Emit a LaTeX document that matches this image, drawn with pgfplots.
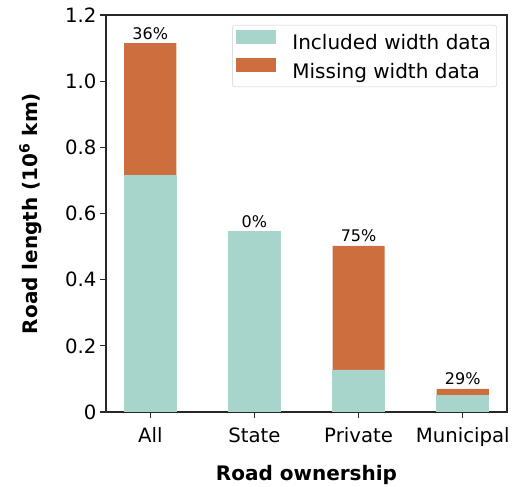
\documentclass[border=0pt]{standalone}
\usepackage{fontspec}
\setmainfont{DejaVu Sans}
\usepackage{pgfplots}
\pgfplotsset{compat=1.18}
\definecolor{incl}{RGB}{168,213,203}
\definecolor{miss}{RGB}{205,110,62}
\definecolor{spine}{RGB}{40,40,40}
\begin{document}
\begin{tikzpicture}
\useasboundingbox (-106pt,-75pt) rectangle (411pt,412pt);
\begin{axis}[
  scale only axis, width=401pt, height=397pt,
  ybar, bar width=0.5, bar shift=0pt,
  xmin=-0.425, xmax=3.425, ymin=0, ymax=1.2,
  xtick={0,1,2,3}, xticklabels={All,State,Private,Municipal},
  ytick={0,0.2,0.4,0.6,0.8,1.0,1.2},
  yticklabels={0,0.2,0.4,0.6,0.8,1.0,1.2},
  tick align=outside, major tick length=6pt, tick pos=left,
  axis line style={spine, line width=1.2pt},
  every tick/.style={spine, line width=1.2pt},
  /pgf/number format/assume math mode=true,
  ticklabel style={font=\fontsize{19.7}{23}\selectfont},
  xticklabel style={anchor=base, yshift=-25pt},
  xlabel={\bfseries Road ownership},
  ylabel={\bfseries Road length (10\textsuperscript{6} km)},
  label style={font=\fontsize{20}{23}\selectfont},
  xlabel style={at={(axis description cs:0.5,0)}, anchor=base, yshift=-69pt},
  ylabel style={at={(axis description cs:-0.172,0.5)}, anchor=base},
  legend style={at={(0.975,0.975)}, anchor=north east, draw=black!20,
    rounded corners=3pt, fill=white, font=\fontsize{20}{23}\selectfont,
    inner xsep=4pt, inner ysep=5pt, row sep=5pt,
    /tikz/every odd column/.append style={column sep=14pt}},
  legend cell align=left,
  legend image code/.code={\fill[#1, sharp corners] (0pt,-1pt) rectangle (40pt,13pt);},
]
\addlegendimage{fill=incl, draw=none}
\addlegendentry{Included width data}
\addlegendimage{fill=miss, draw=none}
\addlegendentry{Missing width data}
% total length per ownership class (missing part shows above the included part),
% labelled with the share that lacks width data
\addplot[forget plot, fill=miss, draw=none, point meta=explicit symbolic,
  nodes near coords={\pgfplotspointmeta\%},
  nodes near coords style={font=\fontsize{16}{18}\selectfont, anchor=base, yshift=4pt}]
  coordinates {(0,1.115) [36] (1,0.547) [0] (2,0.502) [75] (3,0.070) [29]};
% length with width information
\addplot[forget plot, fill=incl, draw=incl, line width=0.6pt]
  coordinates {(0,0.716) (1,0.547) (2,0.127) (3,0.050)};
\end{axis}
\end{tikzpicture}
\end{document}
